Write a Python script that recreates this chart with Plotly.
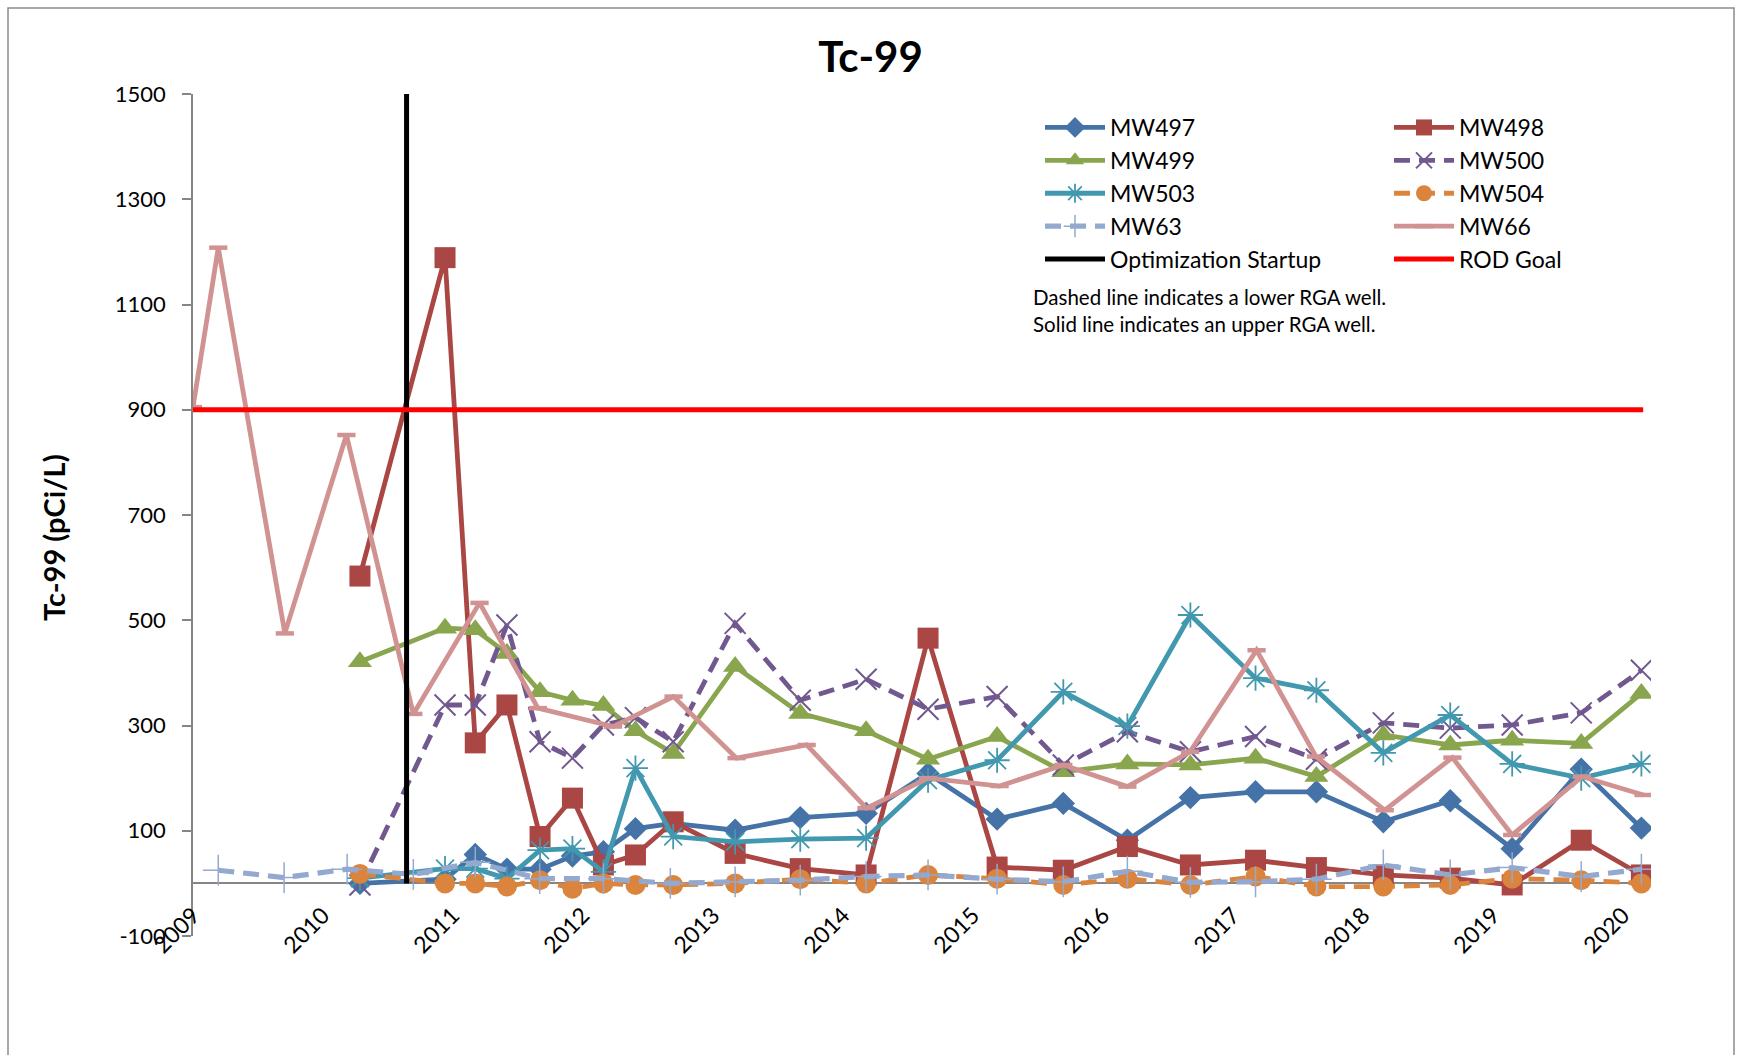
import plotly.graph_objects as go

# ---------------- data ----------------
well_dates = ["2010-04-15", "2010-12-10", "2011-03-05", "2011-06-02", "2011-09-03", "2011-12-03",
              "2012-02-28", "2012-05-28", "2012-09-11", "2013-03-04", "2013-09-03", "2014-03-07",
              "2014-08-28", "2015-03-10", "2015-09-12", "2016-03-10", "2016-09-03", "2017-03-05",
              "2017-08-23", "2018-02-27", "2018-09-03", "2019-02-24", "2019-09-06", "2020-02-22"]

mw497 = [0, 8, 55, 27, 27, 52, 60, 104, 114, 101, 125, 133, 209, 122, 152, 82, 163, 174, 174, 117, 157, 66, 217, 105]
mw498 = [584, 1189, 267, 339, 89, 162, 35, 54, 117, 57, 28, 16, 466, 31, 25, 70, 35, 44, 30, 16, 10, -3, 82, 16]
mw499 = [421, 485, 482, 437, 364, 348, 338, 290, 247, 412, 323, 290, 236, 279, 212, 227, 225, 238, 203, 282, 263, 272, 266, 361]
mw500 = [-3, 339, 339, 491, 269, 238, 301, 315, 269, 494, 348, 388, 331, 355, 225, 288, 250, 279, 236, 305, 295, 301, 324, 405]
mw503 = [10, 28, 28, 9, 63, 66, 22, 219, 89, 79, 84, 86, 196, 234, 364, 299, 510, 390, 367, 248, 320, 227, 200, 227]
mw504 = [18, 0, 0, -6, 6, -10, 0, -3, -3, 0, 8, 0, 16, 9, -3, 9, -3, 13, -6, -6, -3, 9, 6, 0]

mw63_dates = ["2009-03-13", "2009-09-14", "2010-03-10", "2010-09-12", "2011-03-05", "2011-09-02",
              "2012-02-28", "2012-09-03", "2013-03-04", "2013-09-03", "2014-03-07", "2014-08-28",
              "2015-03-10", "2015-09-12", "2016-03-10", "2016-09-03", "2017-03-05", "2017-08-23",
              "2018-02-27", "2018-09-03", "2019-02-24", "2019-09-06", "2020-02-22"]
mw63 = [25, 11, 27, 17, 40, 9, 9, 0, 3, 6, 13, 16, 8, 3, 23, 2, 3, 8, 35, 16, 30, 13, 27]

mw66_dates = ["2009-01-01", "2009-03-13", "2009-09-16", "2010-03-08", "2010-09-12", "2011-03-17",
              "2011-08-28", "2012-03-26", "2012-09-12", "2013-03-08", "2013-09-21", "2014-03-08",
              "2014-08-28", "2015-03-17", "2015-09-12", "2016-03-10", "2016-09-02", "2017-03-08",
              "2017-08-22", "2018-03-03", "2018-09-09", "2019-02-24", "2019-09-08", "2020-02-28"]
mw66 = [905, 1208, 475, 852, 322, 533, 333, 298, 355, 238, 263, 143, 200, 185, 225, 184, 250, 443,
        241, 139, 239, 92, 203, 168]

startup_dates = ["2010-08-24", "2010-08-24"]
startup_vals = [0, 1500]
rod_dates = ["2009-01-01", "2020-02-27"]
rod_vals = [900, 900]

y_ticks = [-100, 100, 300, 500, 700, 900, 1100, 1300, 1500]
x_range = ["2009-01-01", "2020-03-20"]

# ---------------- styling ----------------
FONT = "Lato"
W, H = 1741, 1055
ML, MR, MT, MB = 193, 90, 94, 119
PW = W - ML - MR
PH = H - MT - MB


def px_x(px):
    return (px - ML) / PW


def px_y(py):
    return (H - MB - py) / PH


fig = go.Figure()

LW = 4.8
DASH = "16px,9px"

fig.add_trace(go.Scatter(x=well_dates, y=mw497, name="MW497", mode="lines+markers", legend="legend",
                         line=dict(color="#4572A7", width=LW),
                         marker=dict(symbol="diamond", size=18, color="#4572A7")))
fig.add_trace(go.Scatter(x=well_dates, y=mw498, name="MW498", mode="lines+markers", legend="legend2",
                         line=dict(color="#AA4643", width=LW),
                         marker=dict(symbol="square", size=21, color="#AA4643")))
fig.add_trace(go.Scatter(x=well_dates, y=mw499, name="MW499", mode="lines+markers", legend="legend",
                         line=dict(color="#89A54E", width=LW),
                         marker=dict(symbol="triangle-up", size=21, color="#89A54E")))
fig.add_trace(go.Scatter(x=well_dates, y=mw500, name="MW500", mode="lines+markers", legend="legend2",
                         line=dict(color="#71588F", width=LW, dash=DASH),
                         marker=dict(symbol="x-thin", size=21, color="#71588F",
                                     line=dict(color="#71588F", width=2))))
fig.add_trace(go.Scatter(x=well_dates, y=mw503, name="MW503", mode="lines+markers", legend="legend",
                         line=dict(color="#4198AF", width=LW),
                         marker=dict(symbol="asterisk", size=21, color="#4198AF",
                                     line=dict(color="#4198AF", width=1.8))))
fig.add_trace(go.Scatter(x=well_dates, y=mw504, name="MW504", mode="lines+markers", legend="legend2",
                         line=dict(color="#DB843D", width=LW, dash=DASH),
                         marker=dict(symbol="circle", size=20, color="#DB843D")))
fig.add_trace(go.Scatter(x=mw63_dates, y=mw63, name="MW63", mode="lines+markers", legend="legend",
                         line=dict(color="#93A9CF", width=LW + 0.4, dash=DASH),
                         marker=dict(symbol="cross-thin", size=22, color="#93A9CF",
                                     line=dict(color="#93A9CF", width=1.5))))
fig.add_trace(go.Scatter(x=mw66_dates, y=mw66, name="MW66", mode="lines+markers", legend="legend2",
                         line=dict(color="#D19392", width=LW),
                         marker=dict(symbol="line-ew", size=13, color="#D19392",
                                     line=dict(color="#D19392", width=4.5))))
fig.add_trace(go.Scatter(x=startup_dates, y=startup_vals, name="Optimization Startup", mode="lines",
                         legend="legend", line=dict(color="#000000", width=5)))
fig.add_trace(go.Scatter(x=rod_dates, y=rod_vals, name="ROD Goal", mode="lines",
                         legend="legend2", line=dict(color="#FF0000", width=5)))

legend_common = dict(font=dict(family=FONT, size=23, color="#000000"), bgcolor="rgba(0,0,0,0)",
                     itemwidth=60, tracegroupgap=0, xanchor="left", yanchor="top",
                     traceorder="normal", itemclick=False)

fig.update_layout(
    width=W, height=H,
    margin=dict(l=ML, r=MR, t=MT, b=MB, autoexpand=False),
    paper_bgcolor="white", plot_bgcolor="white",
    font=dict(family=FONT, color="#000000"),
    title=dict(text="<b>Tc-99</b>", font=dict(family=FONT, size=42, color="#000000"),
               x=0.5, xref="container", xanchor="center",
               y=1 - 57 / H, yref="container", yanchor="middle"),
    showlegend=True,
    legend=dict(x=px_x(1040), y=px_y(106), **legend_common),
    legend2=dict(x=px_x(1389), y=px_y(106), **legend_common),
    xaxis=dict(type="date", range=x_range, tick0="2009-01-01", dtick="M12", tickformat="%Y",
               tickangle=-45, tickfont=dict(family=FONT, size=23, color="#000000"),
               showgrid=False, showline=False, zeroline=False, ticks="",
               anchor="free", position=0.047),
    yaxis=dict(range=[-100, 1500], tickvals=y_ticks, ticktext=[str(v) for v in y_ticks],
               tickfont=dict(family=FONT, size=22, color="#000000"),
               showgrid=False, showline=True, linecolor="#868686", linewidth=1.5,
               ticks="outside", ticklen=9, tickwidth=1.5, tickcolor="#868686",
               ticklabelstandoff=12,
               zeroline=True, zerolinecolor="#868686", zerolinewidth=2,
               automargin=False),
    annotations=[
        dict(text="<b>Tc-99 (pCi/L)</b>", textangle=-90, xref="paper", yref="paper",
             x=px_x(53), y=px_y(538), xanchor="center", yanchor="middle", showarrow=False,
             font=dict(family=FONT, size=29, color="#000000")),
        dict(text="Dashed line indicates a lower RGA well.<br>Solid line indicates an upper RGA well.",
             xref="paper", yref="paper", x=px_x(1031), y=px_y(283), xanchor="left", yanchor="top",
             align="left", showarrow=False, font=dict(family=FONT, size=20.5, color="#000000"))],
    shapes=[dict(type="rect", xref="paper", yref="paper", x0=px_x(8), x1=px_x(1734), y0=px_y(1080),
                 y1=px_y(8), line=dict(color="#8C8C8C", width=1.5), fillcolor="rgba(0,0,0,0)", layer="below")],
)

fig.write_html("out.html", post_script="document.body.style.margin='0px';",
               config={"displayModeBar": False})
